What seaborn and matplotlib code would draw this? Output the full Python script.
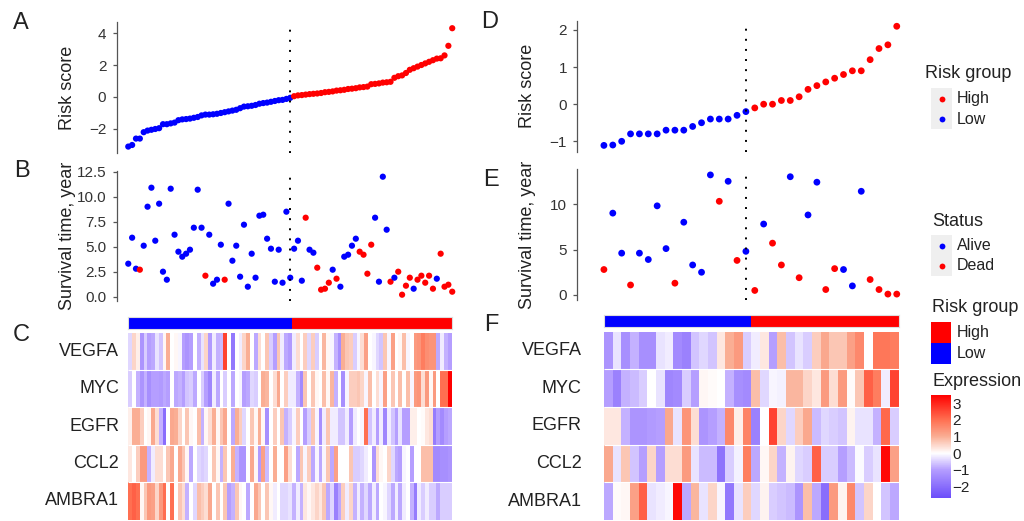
import numpy as np
import pandas as pd
import matplotlib
matplotlib.use('Agg')
import matplotlib.pyplot as plt
import seaborn as sns
from matplotlib.colors import LinearSegmentedColormap, ListedColormap
from matplotlib.patches import Rectangle
from matplotlib.ticker import FormatStrFormatter

# ---------------- data: training cohort (left) ----------------
risk_low_L = [-3.1, -3.0, -2.6, -2.6, -2.2, -2.1, -2.05, -2.0, -1.95, -1.7, -1.7, -1.65, -1.6,
              -1.45, -1.4, -1.38, -1.35, -1.3, -1.25, -1.15, -1.1, -1.1, -1.08, -1.05, -1.0,
              -0.95, -0.9, -0.85, -0.8, -0.7, -0.6, -0.58, -0.55, -0.5, -0.42, -0.38, -0.35,
              -0.3, -0.25, -0.2, -0.18, -0.12, -0.05]
risk_high_L = [0.05, 0.1, 0.12, 0.15, 0.18, 0.2, 0.22, 0.25, 0.3, 0.32, 0.35, 0.4, 0.42, 0.45,
               0.5, 0.52, 0.55, 0.6, 0.62, 0.65, 0.8, 0.82, 0.85, 0.9, 0.92, 0.95, 1.2, 1.3,
               1.35, 1.5, 1.7, 1.8, 1.9, 2.0, 2.1, 2.2, 2.3, 2.4, 2.42, 2.6, 3.2, 4.3]
time_L = [3.3, 5.9, 2.8, 2.7, 5.1, 9.0, 10.9, 5.6, 9.3, 2.5, 1.7, 10.8, 6.2, 4.5, 4.0, 4.3, 4.7,
          6.9, 10.7, 6.9, 2.1, 6.2, 1.3, 1.7, 5.2, 1.7, 9.3, 3.6, 5.1, 2.0, 7.2, 1.0, 4.3, 1.9,
          8.1, 8.2, 5.8, 4.8, 1.5, 4.7, 1.4, 8.5, 1.9,
          4.8, 5.6, 1.6, 7.9, 4.7, 4.4, 2.9, 0.7, 0.8, 1.4, 2.7, 1.8, 1.0, 4.0, 4.2, 5.1, 5.8,
          4.5, 4.2, 2.3, 5.2, 7.9, 1.5, 12.0, 6.7, 1.5, 1.9, 2.5, 0.2, 1.1, 1.9, 0.8, 1.7, 2.1,
          1.4, 2.1, 0.8, 1.8, 4.3, 1.0, 1.2, 0.5]
status_L = ['Alive'] * 3 + ['Dead'] + ['Alive'] * 16 + ['Dead'] + ['Alive'] * 4 + ['Dead'] + ['Alive'] * 17 + \
           ['Alive', 'Alive', 'Alive', 'Dead', 'Alive', 'Alive', 'Dead', 'Dead', 'Dead', 'Dead',
            'Alive', 'Dead', 'Alive', 'Alive', 'Alive', 'Alive', 'Alive', 'Dead', 'Dead', 'Dead',
            'Dead', 'Alive', 'Alive', 'Alive', 'Alive', 'Dead', 'Alive', 'Dead', 'Dead', 'Dead',
            'Dead', 'Alive', 'Dead', 'Dead', 'Dead', 'Dead', 'Dead', 'Alive', 'Dead', 'Dead',
            'Dead', 'Dead']

genes = ['VEGFA', 'MYC', 'EGFR', 'CCL2', 'AMBRA1']
vegfa_L = [-0.4, 0.5, 0.2, -1.2, -0.5, -1.0, -0.9, -0.3, -0.6, 0.1, 1.0, 0.0, 0.1, -0.1, -1.0, -1.2,
           -1.0, 0.0, -0.8, -0.3, 0.5, -1.1, -0.2, -0.8, -0.7, 2.6, 0.0, -1.8, 0.0, -0.2, 0.5, 1.0,
           0.0, -0.9, 0.4, 0.0, 0.7, -0.5, -1.0, 0.7, -0.2, -0.9, -1.1,
           -0.2, 0.4, 0.0, 0.6, -0.4, 0.6, -0.5, 0.0, 0.9, 0.1, -0.1, -0.8, -1.3, 1.0, 0.7, 0.6,
           -0.5, -0.1, 0.4, 1.2, 0.0, -0.1, -0.4, -0.6, 0.7, -0.1, 1.2, 0.0, 0.1, 0.8, -0.1, 0.0,
           1.3, 1.4, 1.8, 1.5, 1.4, 1.4, -0.9, -0.2, -0.8, -1.0]
myc_L = [-0.5, 0.0, -0.8, -1.2, -0.8, -1.3, -1.0, -1.0, -1.1, -0.9, -1.0, 0.0, -0.9, -0.8, -1.0,
         -0.6, -0.5, -0.9, 0.0, -0.5, -1.0, -1.5, -0.2, -0.9, 0.0, -0.5, 0.0, -0.9, 0.0, -0.1,
         -1.0, -0.9, -0.4, -0.5, 0.0, 1.0, 0.9, 0.0, 0.4, 1.1, 0.0, 0.6, -0.2,
         -0.2, -0.8, -1.4, 0.7, 0.0, 0.7, 0.1, 0.0, 0.8, 0.1, 0.9, -0.8, 0.0, -1.3, -0.1, 0.6,
         0.6, 0.7, 0.5, -0.1, 0.8, 0.0, 0.4, -0.1, 1.2, 0.0, 0.7, 0.0, 0.8, 0.0, 0.8, -0.1, 1.3,
         1.4, 0.4, 1.3, 0.1, 1.3, 0.0, 2.0, 2.0, 3.5]
egfr_L = [0.2, 1.0, 1.0, 0.6, 0.0, 0.1, 1.1, 0.4, -0.8, -2.0, 0.0, 1.1, 1.0, 0.5, 0.0, 0.7, 0.1,
          0.0, 0.8, -0.8, 0.1, 0.4, 1.0, 0.1, 0.7, 1.1, 0.0, -0.9, 1.0, 0.6, -0.4, 0.0, 0.7, 0.1,
          1.0, 0.1, -1.3, 0.0, 0.6, 0.0, 0.7, -0.8, -0.5,
          -0.1, 0.6, 0.0, -1.0, -0.5, 0.7, -0.1, -1.3, -0.2, 0.7, -0.2, -0.2, -0.6, -0.6, -0.2,
          -1.0, -0.2, 0.0, -0.1, 2.0, -0.6, -0.2, -1.0, -0.2, -1.5, -0.2, -0.6, -1.0, -0.3, -1.0,
          -1.0, 0.2, 0.2, 0.0, 0.05, 0.3, 0.4, -1.7, -1.0, -1.4, -1.0, -0.9]
ccl2_L = [0.3, 0.0, 0.6, 1.3, 1.3, -0.8, -0.2, 0.4, 0.4, 0.0, 0.7, 1.1, 0.0, 1.1, 0.7, 0.1, -0.9,
          0.0, -0.4, -0.5, -0.4, 0.0, 0.7, 0.1, -0.8, 0.7, 0.0, 1.0, -0.8, -1.2, -1.2, 0.0, 1.1,
          0.1, -1.1, 1.2, -0.7, 0.0, 1.0, 0.0, 0.0, 1.2, 0.4,
          0.0, -0.9, 0.7, -0.1, 0.6, -0.9, -0.1, -0.9, -0.1, 0.7, -0.9, 1.2, 0.0, 0.0, 0.0, 0.7,
          -0.5, -0.5, -0.4, -0.2, 0.0, -1.2, 0.4, 0.1, 0.0, 0.5, -0.4, -0.9, -1.0, -0.1, 0.0,
          -1.0, 0.0, 0.0, 0.8, 0.8, 0.8, -1.4, -1.4, -1.3, -1.3, -1.2]
ambra1_L = [2.0, 2.2, 2.0, 0.1, 0.7, 1.3, 1.2, 0.5, 1.3, 2.0, 0.0, 2.0, 0.0, 0.7, 0.4, -0.8, 0.0,
            -0.4, 0.8, 0.6, 0.4, 1.1, 0.0, 0.7, 0.0, 0.7, -1.0, -0.8, 0.7, 0.1, 0.0, -0.9, 0.0,
            1.1, 0.7, 0.0, 0.7, 0.1, -0.2, 0.0, -0.4, -0.4, -0.3,
            -0.8, -0.2, -0.8, 0.3, 0.1, 0.3, 0.5, 0.3, 0.7, -0.9, -0.4, -1.6, -0.9, 0.6, -0.2,
            0.5, -0.8, -0.2, -0.8, -0.4, -0.9, -0.2, -0.9, 0.0, -0.1, -0.4, -0.9, -0.2, -0.9,
            -0.2, 0.0, -0.8, -1.7, -0.2, -0.5, -0.2, -0.5, -0.5, -0.9, -0.5, -0.5, -0.5]

# ---------------- data: validation cohort (right) ----------------
risk_low_R = [-1.11, -1.1, -1.0, -0.8, -0.8, -0.8, -0.8, -0.7, -0.7, -0.7, -0.6, -0.5, -0.4,
              -0.4, -0.4, -0.3, -0.2]
risk_high_R = [-0.1, 0.0, 0.0, 0.1, 0.1, 0.2, 0.4, 0.5, 0.6, 0.7, 0.8, 0.9, 0.9, 1.2, 1.5, 1.6, 2.1]
time_R = [2.8, 9.0, 4.6, 1.1, 4.6, 3.9, 9.8, 5.1, 1.3, 8.0, 3.3, 2.5, 13.2, 10.3, 12.5, 3.8, 4.8,
          0.5, 7.8, 5.7, 3.3, 13.0, 1.9, 8.8, 12.4, 0.6, 2.9, 2.8, 1.0, 11.4, 1.7, 0.6, 0.1, 0.1]
status_R = ['Dead', 'Alive', 'Alive', 'Dead', 'Alive', 'Alive', 'Alive', 'Alive', 'Dead', 'Alive',
            'Alive', 'Alive', 'Alive', 'Dead', 'Alive', 'Dead', 'Alive',
            'Dead', 'Alive', 'Dead', 'Dead', 'Alive', 'Dead', 'Alive', 'Alive', 'Dead', 'Dead',
            'Alive', 'Alive', 'Alive', 'Dead', 'Dead', 'Dead', 'Dead']
vegfa_R = [-1.2, -0.3, -1.3, -0.8, -1.3, -1.3, -0.3, -0.2, -1.4, -1.6, -0.6, -0.4, -0.6, 0.3, 1.0,
           1.3, -0.5, -0.2, 0.3, -1.0, 0.8, -0.6, -0.3, -0.5, 0.6, 1.1, 0.7, 0.7, 1.2, 1.6, 0.0,
           1.9, 1.9, 1.8]
myc_R = [-1.0, -1.6, -0.8, -0.7, -0.5, 0.0, -0.3, -1.5, -1.4, -0.5, -1.0, 0.1, 0.05, 0.0, -0.8,
         -1.3, -1.4, 0.8, -0.4, -0.1, -0.15, 0.9, 0.9, 0.5, 0.3, 1.3, 0.4, 1.3, 0.05, 0.7, 2.2,
         1.8, -0.2, 2.6]
egfr_R = [0.3, 0.3, -0.8, -1.2, -1.2, -1.1, -1.0, 1.1, -0.3, 1.4, 0.4, -1.2, -1.0, -0.8, 1.6, 0.2,
          1.7, -1.6, 0.0, 2.6, 0.5, -0.4, 0.6, 1.1, -0.7, -0.4, -0.5, -0.6, 0.15, -0.3, -0.3,
          -0.8, 2.1, -0.5]
ccl2_R = [1.1, -0.3, 0.7, -0.6, -1.0, 0.5, -1.0, 0.4, 0.4, 1.3, -0.3, -0.7, -0.7, -1.9, -0.5,
          -0.15, 1.8, -0.9, 0.1, 0.5, -0.8, 0.15, -0.4, -0.5, 2.2, -0.5, -0.5, -1.0, -0.7, -0.05,
          -0.5, -0.3, 3.4, 1.2]
ambra1_R = [-0.9, 0.05, 0.1, 1.2, 2.2, -0.3, -0.2, -0.1, 3.4, -0.9, 0.9, -0.3, 0.5, -0.1, -1.8,
            -0.3, 0.6, -0.4, 0.15, -0.5, -0.6, -0.7, -1.2, 0.8, -0.9, -2.0, 1.3, 0.15, 1.6, -0.6,
            0.5, 0.0, -0.6, -0.9]

# ---------------- styling ----------------
sns.set_style('white')
plt.rcParams['font.family'] = ['Liberation Sans', 'DejaVu Sans']
RED, BLUE = '#FF0000', '#0000FF'
risk_pal = {'High': RED, 'Low': BLUE}
status_pal = {'Alive': BLUE, 'Dead': RED}
VMIN, VMAX = -2.7, 3.5
def pos(v):
    return (v - VMIN) / (VMAX - VMIN)
expr_cmap = LinearSegmentedColormap.from_list('expr', [
    (pos(-2.7), (0.42, 0.30, 0.98)), (pos(-1.0), (0.71, 0.62, 1.0)), (pos(0.0), (1, 1, 1)),
    (pos(1.0), (0.98, 0.68, 0.58)), (pos(2.0), (1.0, 0.44, 0.32)), (pos(3.5), (1.0, 0.0, 0.0))])
annot_cmap = ListedColormap([BLUE, RED])

W, H = 1024, 521
fig = plt.figure(figsize=(W / 100, H / 100), dpi=100)
def add_ax(l, t, r, b):
    return fig.add_axes([l / W, 1 - b / H, (r - l) / W, (b - t) / H])

def style_scatter(ax, ylim, yticks, xlim, fmt=None):
    ax.set_xlim(xlim)
    ax.set_ylim(ylim)
    ax.set_yticks(yticks)
    if fmt:
        ax.yaxis.set_major_formatter(FormatStrFormatter(fmt))
    for s in ['top', 'right', 'bottom']:
        ax.spines[s].set_visible(False)
    ax.spines['left'].set_color('#555555')
    ax.spines['left'].set_linewidth(0.9)
    ax.set_xticks([])
    ax.set_xlabel('')
    ax.tick_params(axis='y', left=True, length=3, width=0.9, color='#555555', labelsize=11,
                   labelcolor='#333333', pad=4.5)
    ax.patch.set_alpha(0)

def make_panels(risk_low, risk_high, times, status, expr, axes_px, xlim, ylimA, yticksA,
                ylimB, yticksB, fmtB, dot_s, label_x, label_pad):
    n_low = len(risk_low)
    scores = risk_low + risk_high
    n = len(scores)
    df = pd.DataFrame({'idx': np.arange(n), 'score': scores,
                       'group': ['Low'] * n_low + ['High'] * (n - n_low),
                       'time': times, 'status': status})
    axA = add_ax(*axes_px['A'])
    sns.scatterplot(data=df, x='idx', y='score', hue='group', palette=risk_pal, s=dot_s,
                    edgecolor='none', legend=False, ax=axA)
    axA.axvline(n_low - 1, color='black', lw=1.4, ls=(0, (1, 4.2)))
    style_scatter(axA, ylimA, yticksA, xlim)
    axA.set_ylabel('Risk score', fontsize=13, color='#222222')
    axB = add_ax(*axes_px['B'])
    sns.scatterplot(data=df, x='idx', y='time', hue='status', palette=status_pal, s=dot_s,
                    edgecolor='none', legend=False, ax=axB)
    axB.axvline(n_low - 1, color='black', lw=1.4, ls=(0, (1, 4.2)))
    style_scatter(axB, ylimB, yticksB, xlim, fmtB)
    axB.set_ylabel('Survival time, year', fontsize=13, color='#222222')
    for ax in (axA, axB):
        ax.yaxis.set_label_coords(label_x, 0.5)
        ax.yaxis.label.set_va('center')
    # annotation bar
    axN = add_ax(*axes_px['N'])
    codes = pd.DataFrame([[0] * n_low + [1] * (n - n_low)])
    sns.heatmap(codes, cmap=annot_cmap, vmin=0, vmax=1, cbar=False, ax=axN,
                xticklabels=False, yticklabels=False)
    for s in axN.spines.values():
        s.set_visible(True)
        s.set_color('#dddddd')
        s.set_linewidth(0.8)
    # expression heatmap
    axH = add_ax(*axes_px['H'])
    mat = pd.DataFrame(expr, index=genes)
    sns.heatmap(mat, cmap=expr_cmap, vmin=VMIN, vmax=VMAX, cbar=False, ax=axH,
                xticklabels=False, yticklabels=True)
    axH.hlines(np.arange(1, len(genes)), 0, n, color='white', lw=0.8)
    axH.tick_params(axis='y', length=0, labelsize=13, pad=label_pad, labelcolor='#222222')
    plt.setp(axH.get_yticklabels(), rotation=0)
    return axH

make_panels(risk_low_L, risk_high_L, time_L, status_L,
            [vegfa_L, myc_L, egfr_L, ccl2_L, ambra1_L],
            {'A': (116.7, 22.3, 463.8, 152.5), 'B': (116.7, 170.7, 463.8, 300.7),
             'N': (128.3, 316.7, 451.7, 329.0), 'H': (128.3, 332.7, 451.7, 519.6)},
            (-3, 87), (-3.47, 4.67), [-2, 0, 2, 4], (-0.4, 12.6),
            [0, 2.5, 5, 7.5, 10, 12.5], '%.1f', 20, -0.143, 6.5)

make_panels(risk_low_R, risk_high_R, time_R, status_R,
            [vegfa_R, myc_R, egfr_R, ccl2_R, ambra1_R],
            {'A': (577.3, 20.7, 914.5, 151.7), 'B': (577.3, 169.0, 914.5, 300.0),
             'N': (604.0, 315.0, 898.7, 327.3), 'H': (604.0, 331.7, 898.7, 520.0)},
            (-3, 35), (-1.28, 2.25), [-1, 0, 1, 2], (-0.55, 13.85),
            [0, 5, 10], None, 24, -0.149, 16)

# colour bar (Expression) drawn from the heatmap colour map
cax = add_ax(931, 395, 951, 498)
sm = plt.cm.ScalarMappable(cmap=expr_cmap, norm=plt.Normalize(VMIN, VMAX))
cb = fig.colorbar(sm, cax=cax, ticks=[-2, -1, 0, 1, 2, 3])
cb.outline.set_visible(False)
cax.tick_params(direction='in', color='white', length=4, width=0.8, labelsize=11,
                labelcolor='#222222', pad=1)

# panel letters
for letter, x, y in [('A', 21, 23), ('B', 22, 171), ('C', 21, 335),
                     ('D', 490, 22), ('E', 491, 180), ('F', 491, 325)]:
    fig.text(x / W, 1 - y / H, letter, fontsize=17, ha='center', va='center', color='#222222')

# legends (overlay in pixel coordinates)
lax = fig.add_axes([0, 0, 1, 1], zorder=5)
lax.set_xlim(0, W)
lax.set_ylim(H, 0)
lax.axis('off')
def legend_title(x, y, s):
    lax.text(x, y, s, fontsize=13, ha='left', va='center', color='#222222')
def legend_label(x, y, s):
    lax.text(x, y, s, fontsize=11.5, ha='left', va='center', color='#222222')

legend_title(925, 74, 'Risk group')
lax.add_patch(Rectangle((931, 88), 21, 41, color='#EFEFEF', lw=0))
for y, lab in [(99, 'High'), (119, 'Low')]:
    lax.plot([941.5], [y], 'o', color=risk_pal[lab], ms=4.2, mec='none')
    legend_label(957, y, lab)

legend_title(932, 221, 'Status')
lax.add_patch(Rectangle((931, 235), 21, 41, color='#EFEFEF', lw=0))
for y, lab in [(246, 'Alive'), (266, 'Dead')]:
    lax.plot([941.5], [y], 'o', color=status_pal[lab], ms=4.2, mec='none')
    legend_label(957, y, lab)

legend_title(932, 308, 'Risk group')
for y, lab in [(322, 'High'), (343, 'Low')]:
    lax.add_patch(Rectangle((931, y), 20, 20.5, color=risk_pal[lab], lw=0))
    legend_label(957, y + 11, lab)

legend_title(932, 381, 'Expression')

fig.savefig('out.png', dpi=100)
